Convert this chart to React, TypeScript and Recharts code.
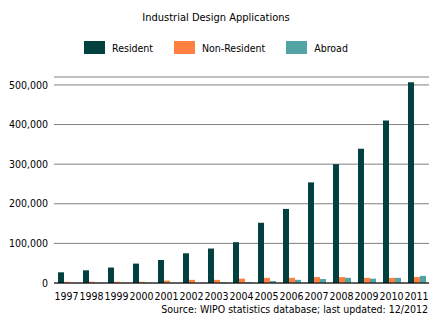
import { BarChart, Bar, XAxis, YAxis, CartesianGrid, Legend } from "recharts";

// ── Data ──────────────────────────────────────────────────────────────────────

const YEARS = ["1997", "1998", "1999", "2000", "2001", "2002", "2003", "2004", "2005", "2006", "2007", "2008", "2009", "2010", "2011"];
const RESIDENT = [27000, 32000, 39000, 49000, 58000, 75000, 87000, 103000, 152000, 187000, 254000, 300000, 339000, 410000, 507000];
const NON_RESIDENT = [3000, 3000, 3000, 3000, 6000, 8000, 8000, 11000, 13000, 13000, 15000, 15000, 13000, 13000, 15000];
const ABROAD = [0, 0, 0, 0, 0, 0, 2000, 2000, 5000, 8000, 10000, 13000, 11000, 13000, 18000];
const Y_TICKS = [0, 100000, 200000, 300000, 400000, 500000];

const C_RES = "#034040";
const C_NON = "#ff8040";
const C_ABR = "#52a3a3";
const FONT = "'DejaVu Sans Condensed', 'DejaVu Sans', sans-serif";

const data = YEARS.map((y, i) => ({
  year: y,
  resident: RESIDENT[i],
  nonResident: NON_RESIDENT[i],
  abroad: ABROAD[i],
}));

const fmt = (v: number) => v.toLocaleString("en-US");

function LegendBox() {
  const items = [
    { label: "Resident", color: C_RES },
    { label: "Non-Resident", color: C_NON },
    { label: "Abroad", color: C_ABR },
  ];
  return (
    <div style={{ display: "flex", justifyContent: "center", gap: 21, fontFamily: FONT, fontSize: 10.5, color: "#000" }}>
      {items.map((it) => (
        <span key={it.label} style={{ display: "flex", alignItems: "center", gap: 7 }}>
          <span style={{ display: "inline-block", width: 21, height: 13, background: it.color }} />
          {it.label}
        </span>
      ))}
    </div>
  );
}

export default function App() {
  return (
    <div style={{ position: "absolute", left: 0, top: 0, width: 432, height: 322, background: "#fff", fontFamily: FONT }}>
      <div style={{ position: "absolute", top: 11, width: 432, textAlign: "center", fontSize: 11, color: "#000" }}>
        Industrial Design Applications
      </div>
      <BarChart
        width={432}
        height={322}
        data={data}
        barSize={6}
        barGap={0}
        margin={{ top: 64, right: 3, bottom: 23, left: 0 }}
      >
        <CartesianGrid vertical={false} stroke="#808080" strokeWidth={1} />
        <XAxis
          dataKey="year"
          axisLine={{ stroke: "#000" }}
          tickLine={false}
          interval={0}
          height={16}
          tick={{ fill: "#000", fontSize: 10.5, fontFamily: FONT }}
          tickMargin={4}
        />
        <YAxis
          domain={[0, 520000]}
          ticks={Y_TICKS}
          tickFormatter={fmt}
          axisLine={false}
          tickLine={false}
          width={54}
          tickMargin={0}
          tick={{ fill: "#000", fontSize: 10.5, fontFamily: FONT }}
        />
        <Legend
          verticalAlign="top"
          content={() => <LegendBox />}
          wrapperStyle={{ top: 41, left: 0, width: 432 }}
        />
        <Bar dataKey="resident" name="Resident" fill={C_RES} isAnimationActive={false} />
        <Bar dataKey="nonResident" name="Non-Resident" fill={C_NON} isAnimationActive={false} />
        <Bar dataKey="abroad" name="Abroad" fill={C_ABR} isAnimationActive={false} />
      </BarChart>
      <div style={{ position: "absolute", top: 303, right: 4, fontSize: 10.5, color: "#000" }}>
        Source: WIPO statistics database; last updated: 12/2012
      </div>
    </div>
  );
}
